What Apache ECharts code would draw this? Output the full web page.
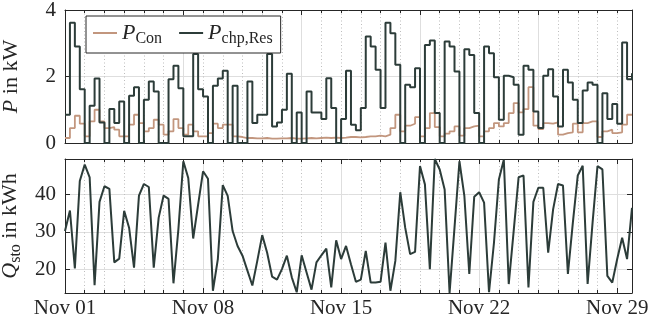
<!DOCTYPE html>
<html>
<head>
<meta charset="utf-8">
<script src="https://cdn.jsdelivr.net/npm/echarts@6/dist/echarts.min.js"></script>
<style>
  html, body { margin: 0; padding: 0; background: #fff; }
  #chart { width: 650px; height: 330px; }
</style>
</head>
<body>
<div id="chart"></div>
<script>
// samples every 6 h starting Nov 01 00:00
const sampleStepDays = 0.25;
const spanDays = 28.75;

const bottomTickLabels = ["Nov 01", "Nov 08", "Nov 15", "Nov 22", "Nov 29"];

const pConValues = [
  0.15, 0.45, 0.82, 0.58, 0.2, 0.65, 1.0, 0.65, 0.45, 0.48,
  0.4, 0.2, 0.2, 0.55, 0.85, 0.6, 0.35, 0.45, 0.7, 0.55,
  0.25, 0.35, 0.72, 0.45, 0.25, 0.55, 0.35, 0.2, 0.2, 0.3,
  0.58, 0.45, 0.55, 0.55, 0.2, 0.18, 0.15, 0.15, 0.14, 0.14,
  0.15, 0.13, 0.13, 0.14, 0.14, 0.15, 0.13, 0.13, 0.14, 0.15,
  0.14, 0.15, 0.16, 0.15, 0.16, 0.15, 0.16, 0.18, 0.18, 0.17,
  0.18, 0.2, 0.2, 0.22, 0.2, 0.25, 0.45, 0.85, 0.35, 0.52,
  0.58, 0.78, 0.2, 0.45, 0.9, 0.48, 0.2, 0.28, 0.35, 0.5,
  0.22, 0.45, 0.5, 0.52, 0.2, 0.35, 0.45, 0.6, 0.5, 0.6,
  0.9, 1.2, 0.92, 1.02, 1.68, 0.52, 0.42, 0.6, 0.58, 0.62,
  0.25, 0.3, 0.32, 0.58, 0.32, 0.6, 0.65, 0.65, 0.18, 0.35,
  0.4, 0.3, 0.32, 0.55, 0.85, 0.85
];

const pChpResValues = [
  0.85, 3.62, 2.9, 1.62, 0, 1.12, 1.94, 0.62, 0, 1.02,
  0.6, 1.25, 0, 1.42, 1.68, 0, 1.3, 1.85, 1.55, 0,
  0, 1.92, 2.32, 1.65, 0.2, 0.2, 2.68, 1.62, 1.4, 0,
  1.72, 1.94, 2.17, 0, 1.72, 0, 0, 1.85, 0.6, 0.85,
  0.85, 2.68, 0.5, 0.62, 1.0, 2.08, 0, 0.92, 0, 1.55,
  0.92, 0.92, 0.72, 1.95, 1.05, 0, 0.72, 2.17, 0.55, 0.38,
  1.05, 3.2, 2.9, 2.2, 1.05, 3.62, 3.3, 2.35, 0, 1.75,
  1.68, 2.25, 0, 2.95, 3.08, 0.9, 0, 3.05, 2.9, 2.15,
  0, 2.82, 2.65, 0.9, 0, 2.9, 2.7, 1.98, 0.7, 2.02,
  1.98, 1.75, 0.25, 2.32, 2.2, 0.95, 0.45, 2.02, 2.22, 1.4,
  0.5, 2.2, 1.82, 1.3, 0.6, 1.58, 1.82, 1.75, 0, 1.5,
  0.72, 1.17, 0.58, 3.02, 1.92, 2.1
];

const qStoValues = [
  30.2, 35.7, 20.2, 43.6, 48.0, 44.6, 15.7, 38.0, 42.2, 41.5,
  21.8, 22.8, 35.6, 31.1, 20.4, 39.7, 42.8, 42.0, 20.4, 33.8,
  39.7, 38.8, 16.2, 30.7, 48.9, 44.4, 28.2, 37.3, 46.2, 44.2,
  14.2, 22.7, 42.5, 39.6, 30.2, 26.2, 23.6, 19.6, 15.6, 22.2,
  29.1, 24.4, 18.0, 17.2, 20.0, 23.6, 17.8, 13.8, 23.7, 19.1,
  14.5, 21.8, 23.7, 25.5, 15.1, 27.7, 22.7, 26.2, 21.3, 16.6,
  17.2, 24.9, 16.4, 16.4, 16.6, 27.1, 14.2, 22.2, 40.6, 31.1,
  24.0, 24.6, 47.6, 42.7, 20.0, 49.5, 46.7, 41.3, 13.6, 31.1,
  48.9, 39.6, 18.7, 39.4, 40.6, 37.8, 13.8, 27.0, 44.0, 49.3,
  16.0, 30.2, 44.6, 45.1, 15.1, 38.0, 41.8, 41.8, 24.4, 36.0,
  42.8, 42.4, 18.7, 32.4, 45.1, 47.7, 16.0, 32.4, 47.6, 46.7,
  18.2, 16.4, 22.7, 28.4, 22.7, 36.4
];

const FONT = "'Liberation Serif', 'DejaVu Serif', serif";
const TEXT_COLOR = "#262626";
const FRAME_COLOR = "#262626";
const CON_COLOR = "#c2967e";
const CHP_COLOR = "#2c3c39";

const toPoints = (values) => values.map((v, i) => [i * sampleStepDays, v]);

const richStyles = {
  i: { fontFamily: FONT, fontSize: 22, fontStyle: "italic", color: TEXT_COLOR, lineHeight: 28, verticalAlign: "middle" },
  n: { fontFamily: FONT, fontSize: 22, color: TEXT_COLOR, lineHeight: 28, verticalAlign: "middle" },
  s: { fontFamily: FONT, fontSize: 16, color: TEXT_COLOR, lineHeight: 16, verticalAlign: "bottom" },
  t: { fontFamily: FONT, fontSize: 21, color: TEXT_COLOR, lineHeight: 22 },
};

const frameLine = { show: true, onZero: false, lineStyle: { color: FRAME_COLOR, width: 1 } };
const innerTick = { show: true, inside: true, length: 5, lineStyle: { color: FRAME_COLOR, width: 1 } };

function xAxisFor(gridIndex, position, interval, withGrid, labelFormatter) {
  return {
    type: "value",
    gridIndex,
    position,
    min: 0,
    max: spanDays,
    interval,
    axisLine: frameLine,
    axisTick: innerTick,
    minorTick: { show: true, splitNumber: interval, length: 3, lineStyle: { color: FRAME_COLOR, width: 1 } },
    axisLabel: labelFormatter
      ? { show: true, formatter: labelFormatter, fontFamily: FONT, fontSize: 21, color: TEXT_COLOR, margin: 4, showMaxLabel: false, rich: richStyles }
      : { show: false },
    splitLine: { show: withGrid, lineStyle: { color: "#dedede", width: 1 } },
    minorSplitLine: { show: withGrid, lineStyle: { color: "#bdbdbd", width: 1, type: [1, 2.5] } },
  };
}

function yAxisFor(gridIndex, position, range, name) {
  const left = position === "left";
  return {
    type: "value",
    gridIndex,
    position,
    min: range.min,
    max: range.max,
    interval: range.interval,
    splitNumber: 4,
    axisLine: frameLine,
    axisTick: innerTick,
    axisLabel: left
      ? {
          show: true,
          formatter: (v) => "{t|" + v + "}",
          rich: richStyles,
          fontFamily: FONT,
          fontSize: 21,
          color: TEXT_COLOR,
          margin: 9,
          showMinLabel: range.showEnds,
          showMaxLabel: range.showEnds,
        }
      : { show: false },
    splitLine: { show: left, lineStyle: { color: "#dedede", width: 1 } },
    name: left ? name : "",
    nameLocation: "middle",
    nameRotate: 90,
    nameGap: 40,
    nameTextStyle: { fontFamily: FONT, rich: richStyles },
  };
}

const chart = echarts.init(document.getElementById("chart"), null, { renderer: "canvas" });

chart.setOption({
  animation: false,
  backgroundColor: "#ffffff",
  textStyle: { fontFamily: FONT, color: TEXT_COLOR },
  grid: [
    { left: 65, top: 10, width: 567, height: 133, outerBoundsMode: "none" },
    { left: 65, top: 159, width: 567, height: 134, outerBoundsMode: "none" },
  ],
  legend: {
    left: 86,
    top: 16,
    orient: "horizontal",
    padding: [6, 8, 6, 7],
    itemGap: 17,
    itemWidth: 24,
    itemHeight: 2,
    icon: "rect",
    backgroundColor: "#ffffff",
    borderColor: FRAME_COLOR,
    borderWidth: 1,
    borderRadius: 0,
    data: ["P_Con", "P_chp,Res"],
    formatter: (name) => (name === "P_Con" ? "{i|P}{s|Con}" : "{i|P}{s|chp,Res}"),
    textStyle: { fontFamily: FONT, rich: richStyles },
  },
  xAxis: [
    xAxisFor(0, "bottom", 6, true, null),
    xAxisFor(0, "top", 6, false, null),
    xAxisFor(1, "bottom", 7, true, (v) => (Number.isInteger(v / 7) && bottomTickLabels[v / 7] ? "{t|" + bottomTickLabels[v / 7] + "}" : "")),
    xAxisFor(1, "top", 7, false, null),
  ],
  yAxis: [
    yAxisFor(0, "left", { min: 0, max: 4, interval: 2, showEnds: true }, "{i|P}{n| in kW}"),
    yAxisFor(0, "right", { min: 0, max: 4, interval: 2, showEnds: true }, ""),
    yAxisFor(1, "left", { min: 13.6, max: 49.5, showEnds: false }, "{i|Q}{s|sto}{n| in kWh}"),
    yAxisFor(1, "right", { min: 13.6, max: 49.5, showEnds: false }, ""),
  ],
  series: [
    {
      name: "P_Con",
      type: "line",
      xAxisIndex: 0,
      yAxisIndex: 0,
      step: "end",
      symbol: "none",
      data: toPoints(pConValues),
      lineStyle: { color: CON_COLOR, width: 1.8 },
      itemStyle: { color: CON_COLOR },
      z: 2,
    },
    {
      name: "P_chp,Res",
      type: "line",
      xAxisIndex: 0,
      yAxisIndex: 0,
      step: "end",
      symbol: "none",
      data: toPoints(pChpResValues),
      lineStyle: { color: CHP_COLOR, width: 2 },
      itemStyle: { color: CHP_COLOR },
      z: 3,
    },
    {
      name: "Q_sto",
      type: "line",
      xAxisIndex: 2,
      yAxisIndex: 2,
      symbol: "none",
      data: toPoints(qStoValues),
      lineStyle: { color: CHP_COLOR, width: 2 },
      itemStyle: { color: CHP_COLOR },
      z: 3,
    },
  ],
});
</script>
</body>
</html>
